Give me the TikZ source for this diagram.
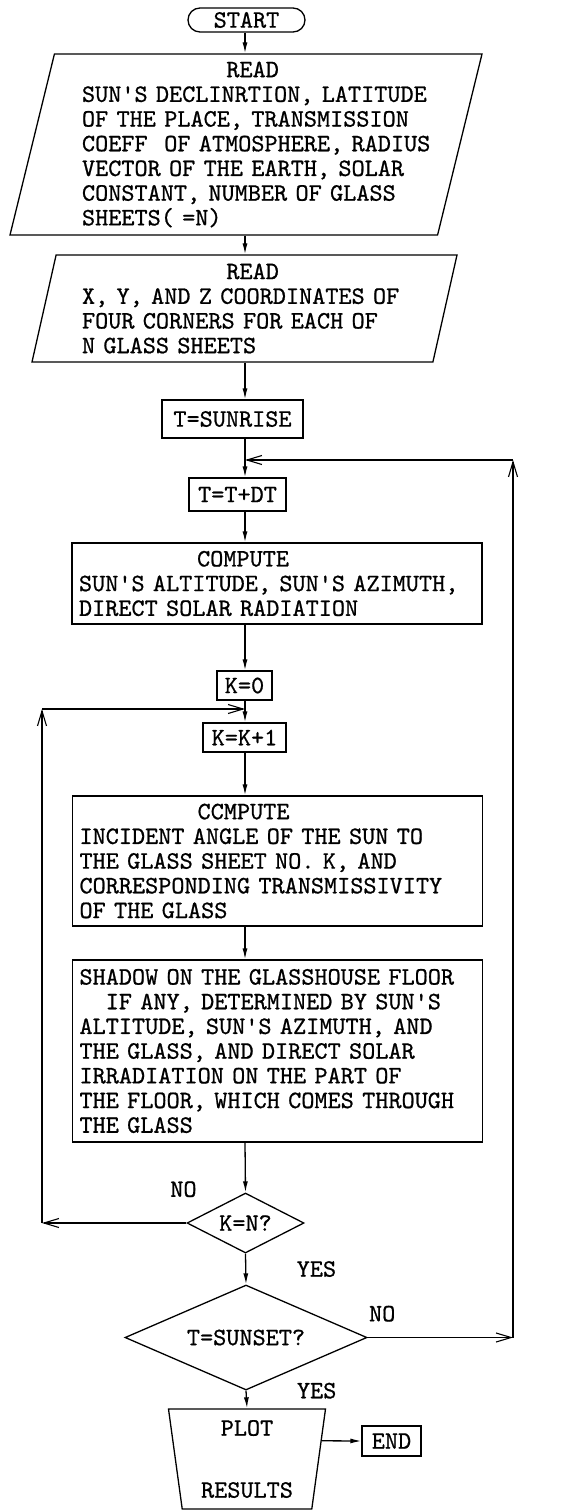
\documentclass[tikz,border=0pt]{standalone}
\usepackage{fontspec}
\usetikzlibrary{shapes.geometric, arrows.meta, calc}
\newfontfamily\typew{lmmono10-regular.otf}[FakeBold=0.8]
\newcommand{\qt}{\textquotesingle}
\newcommand{\pad}[1]{\hspace*{#1\dimexpr0.525em\relax}}

\begin{document}
\begin{tikzpicture}[x=1pt, y=-1pt, line width=1.3pt,
      font=\fontsize{25}{24.7}\typew,
      box/.style={draw, rectangle, inner sep=0pt},
      big/.style={draw, rectangle, text width=396pt, inner xsep=7pt,
                  inner ysep=0pt, align=left},
      io/.style={draw, trapezium, trapezium left angle=75,
                 trapezium right angle=105, trapezium stretches body,
                 inner xsep=-40pt, inner ysep=0pt, align=left},
      test/.style={draw, diamond, inner sep=0pt},
      flow/.style={draw, -{Latex[length=11pt, width=5pt]}},
      back/.style={draw, -{Straight Barb[length=15pt, width=9pt]}, line width=1.1pt}]
    \useasboundingbox (0,0) rectangle (578,1511);
    \coordinate (ax)    at (245,0);
    \coordinate (lft)   at (42,0);
    \coordinate (rgt)   at (513,0);
    \coordinate (tjoin) at (245,460);
    \coordinate (kjoin) at (245,709);

    \node[draw, rectangle, rounded corners=12pt, inner sep=0pt,
          minimum width=117pt, minimum height=24pt] (start) at (246.5,20) {START};
    \node[io, text width=412pt, minimum width=472pt, minimum height=181pt]
         (read1) at (246,144.5)
         {\leftskip=42pt \pad{11}READ\\
          SUN\qt S DECLINRTION, LATITUDE\\
          OF THE PLACE, TRANSMISSION\\
          COEFF~ OF ATMOSPHERE, RADIUS\\
          VECTOR OF THE EARTH, SOLAR\\
          CONSTANT, NUMBER OF GLASS\\
          SHEETS( =N)\par};
    \node[io, text width=365pt, minimum width=425pt, minimum height=107pt]
         (read2) at (244.5,308.5)
         {\leftskip=20pt \pad{11}READ\\
          X, Y, AND Z COORDINATES OF\\
          FOUR CORNERS FOR EACH OF\\
          N GLASS SHEETS\par};
    \node[box, minimum width=141pt, minimum height=38pt] (sunrise) at (232.5,419) {T=SUNRISE};
    \node[box, minimum width=97pt, minimum height=33pt] (tdt) at (237.5,494.5) {T=T+DT};
    \node[big, minimum height=81pt] (comp1) at (277,583.5)
         {\pad{9}COMPUTE\\
          SUN\qt S ALTITUDE, SUN\qt S AZIMUTH,\\
          DIRECT SOLAR RADIATION};
    \node[box, minimum width=55pt, minimum height=29pt] (k0) at (244.5,685.5) {K=0};
    \node[box, minimum width=83pt, minimum height=29pt] (kk1) at (244.5,737.5) {K=K+1};
    \node[big, minimum height=130pt] (comp2) at (277.5,861)
         {\pad{9}CCMPUTE\\
          INCIDENT ANGLE OF THE SUN TO\\
          THE GLASS SHEET NO. K, AND\\
          CORRESPONDING TRANSMISSIVITY\\
          OF THE GLASS};
    \node[big, minimum height=182pt] (shadow) at (277.5,1051)
         {SHADOW ON THE GLASSHOUSE FLOOR\\
          \pad{2}IF ANY, DETERMINED BY SUN\qt S\\
          ALTITUDE, SUN\qt S AZIMUTH, AND\\
          THE GLASS, AND DIRECT SOLAR\\
          IRRADIATION ON THE PART OF\\
          THE FLOOR, WHICH COMES THROUGH\\
          THE GLASS};
    \node[test, aspect=1.95, minimum width=117pt, minimum height=60pt] (kn) at (245.5,1223) {K=N?};
    \node[test, aspect=2.3, minimum width=242pt, minimum height=105pt] (sunset) at (246,1337.5) {T=SUNSET?};
    \node[draw, trapezium, trapezium left angle=100, trapezium right angle=100,
          trapezium stretches body, minimum width=157pt, minimum height=100pt,
          inner sep=0pt, align=center] (plot) at (247,1459) {PLOT\\[37.3pt]RESULTS};
    \node[box, minimum width=59pt, minimum height=30pt] (stop) at (391.5,1441) {END};

    % main flow
    \draw[flow] (start.south -| ax)   -- (read1.north -| ax);
    \draw[flow] (read1.south -| ax)   -- (read2.north -| ax);
    \draw[flow] (read2.south -| ax)   -- (sunrise.north -| ax);
    \draw[flow] (sunrise.south -| ax) -- (tdt.north -| ax);
    \draw[flow] (tdt.south -| ax)     -- (comp1.north -| ax);
    \draw[flow] (comp1.south -| ax)   -- (k0.north -| ax);
    \draw[flow] (k0.south -| ax)      -- (kk1.north -| ax);
    \draw[flow] (kk1.south -| ax)     -- (comp2.north -| ax);
    \draw[flow] (comp2.south -| ax)   -- (shadow.north -| ax);
    \draw[flow] (shadow.south -| ax)  -- (kn.north);
    \draw[flow] (kn.south) -- node[right=47pt] {YES} (sunset.north);
    \draw[flow] (sunset.south) -- node[pos=0, right=47pt] {YES} (plot.north);
    \draw[flow] ($(plot.top right corner)!0.32!(plot.bottom right corner)$) -- (stop.west);

    % loop over the glass sheets
    \draw[back] (kn.west) -- node[pos=0.02, above=22pt] {NO} (kn.west -| lft);
    \draw[back] (kn.west -| lft) -- (kjoin -| lft);
    \draw[back] (kjoin -| lft) -- (kjoin);

    % loop over the day
    \draw[back] (sunset.east) -- node[pos=0.1, above=12pt] {NO} (sunset.east -| rgt);
    \draw[back] (sunset.east -| rgt) -- (tjoin -| rgt);
    \draw[back] (tjoin -| rgt) -- (tjoin);
\end{tikzpicture}
\end{document}
